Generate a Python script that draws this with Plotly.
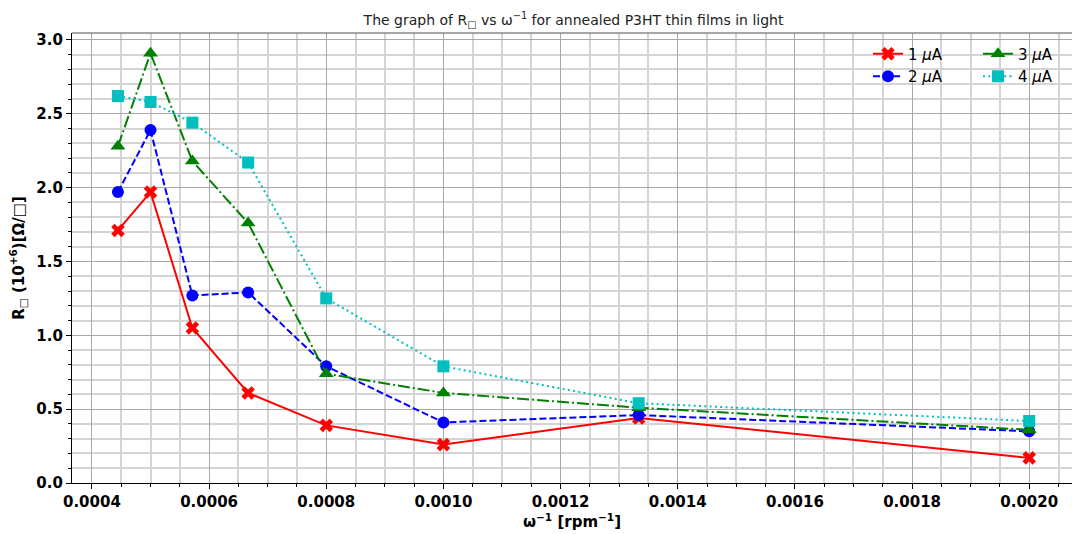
import plotly.graph_objects as go

rpm = [2250, 2000, 1750, 1500, 1250, 1000, 750, 500]
x_inv = [1.0 / r for r in rpm]

r_1uA = [1.71, 1.97, 1.05, 0.61, 0.39, 0.26, 0.44, 0.17]
r_2uA = [1.97, 2.39, 1.27, 1.29, 0.79, 0.41, 0.46, 0.35]
r_3uA = [2.28, 2.91, 2.18, 1.76, 0.74, 0.61, 0.51, 0.36]
r_4uA = [2.62, 2.58, 2.44, 2.17, 1.25, 0.79, 0.54, 0.42]

series = [
    ("1 <i>μ</i>A", r_1uA, "#ff0000", "solid", "x", 12, "legend"),
    ("2 <i>μ</i>A", r_2uA, "#0000ff", "7px,3px", "circle", 12, "legend"),
    ("3 <i>μ</i>A", r_3uA, "#008000", "12px,3px,2px,3px", "triangle-up", 13, "legend2"),
    ("4 <i>μ</i>A", r_4uA, "#00bfbf", "2px,3.3px", "square", 12, "legend2"),
]

FONT = "DejaVu Sans"
fig = go.Figure()
for name, ys, col, dash, sym, msize, leg in series:
    fig.add_trace(go.Scatter(
        x=x_inv, y=ys, name=name, mode="lines+markers",
        line=dict(color=col, width=2, dash=dash),
        marker=dict(symbol=sym, size=msize, color=col, line=dict(width=0)),
        legend=leg,
    ))

fig.update_layout(
    width=1072, height=534,
    margin=dict(l=72, r=0, t=33, b=51),
    paper_bgcolor="white", plot_bgcolor="white",
    font=dict(family=FONT, size=14, color="black"),
    title=dict(
        text="The graph of R<sub>□</sub> vs ω<sup>−1</sup> for annealed P3HT thin films in light",
        x=0.535, xanchor="center", y=0.962, yanchor="middle",
        font=dict(family=FONT, size=14, color="#222222"),
    ),
    legend=dict(x=0.796, y=0.99, xanchor="left", yanchor="top",
                bgcolor="rgba(255,255,255,0)", font=dict(family=FONT, size=15),
                tracegroupgap=0, itemwidth=30),
    legend2=dict(x=0.906, y=0.99, xanchor="left", yanchor="top",
                 bgcolor="rgba(255,255,255,0)", font=dict(family=FONT, size=15),
                 tracegroupgap=0, itemwidth=30),
)

fig.update_xaxes(
    range=[0.000366, 0.002073],
    dtick=0.0002, tick0=0.0,
    tickformat=".4f",
    tickfont=dict(family=FONT, size=15, weight="bold"),
    ticks="outside", ticklen=5, tickwidth=1, tickcolor="black",
    showline=True, linecolor="black", linewidth=1.2,
    showgrid=True, gridcolor="#a8a8a8", gridwidth=1,
    zeroline=False,
    minor=dict(dtick=0.00005, tick0=0.0, showgrid=True, gridcolor="#d4d4d4",
               gridwidth=2, ticks="outside", ticklen=3, tickcolor="black"),
    title=dict(text="ω<sup>−1</sup> [rpm<sup>−1</sup>]", standoff=6,
               font=dict(family=FONT, size=15, weight="bold")),
)
fig.update_yaxes(
    range=[0, 3.047],
    dtick=0.5, tick0=0,
    tickformat=".1f",
    tickfont=dict(family=FONT, size=15, weight="bold"),
    ticks="outside", ticklen=5, tickwidth=1, tickcolor="black",
    showline=True, linecolor="black", linewidth=1.2,
    showgrid=True, gridcolor="#a8a8a8", gridwidth=1,
    zeroline=False,
    minor=dict(dtick=0.1, tick0=0.0, showgrid=True, gridcolor="#d4d4d4",
               gridwidth=2, ticks="outside", ticklen=3, tickcolor="black"),
    title=dict(text="R<sub>□</sub> (10<sup>+6</sup>)[Ω/□]", standoff=8,
               font=dict(family=FONT, size=15, weight="bold")),
)

fig.add_shape(type="line", xref="paper", yref="paper", x0=0, x1=1, y0=1, y1=1,
              line=dict(color="#888888", width=1.5))

fig.write_html("out.html")
